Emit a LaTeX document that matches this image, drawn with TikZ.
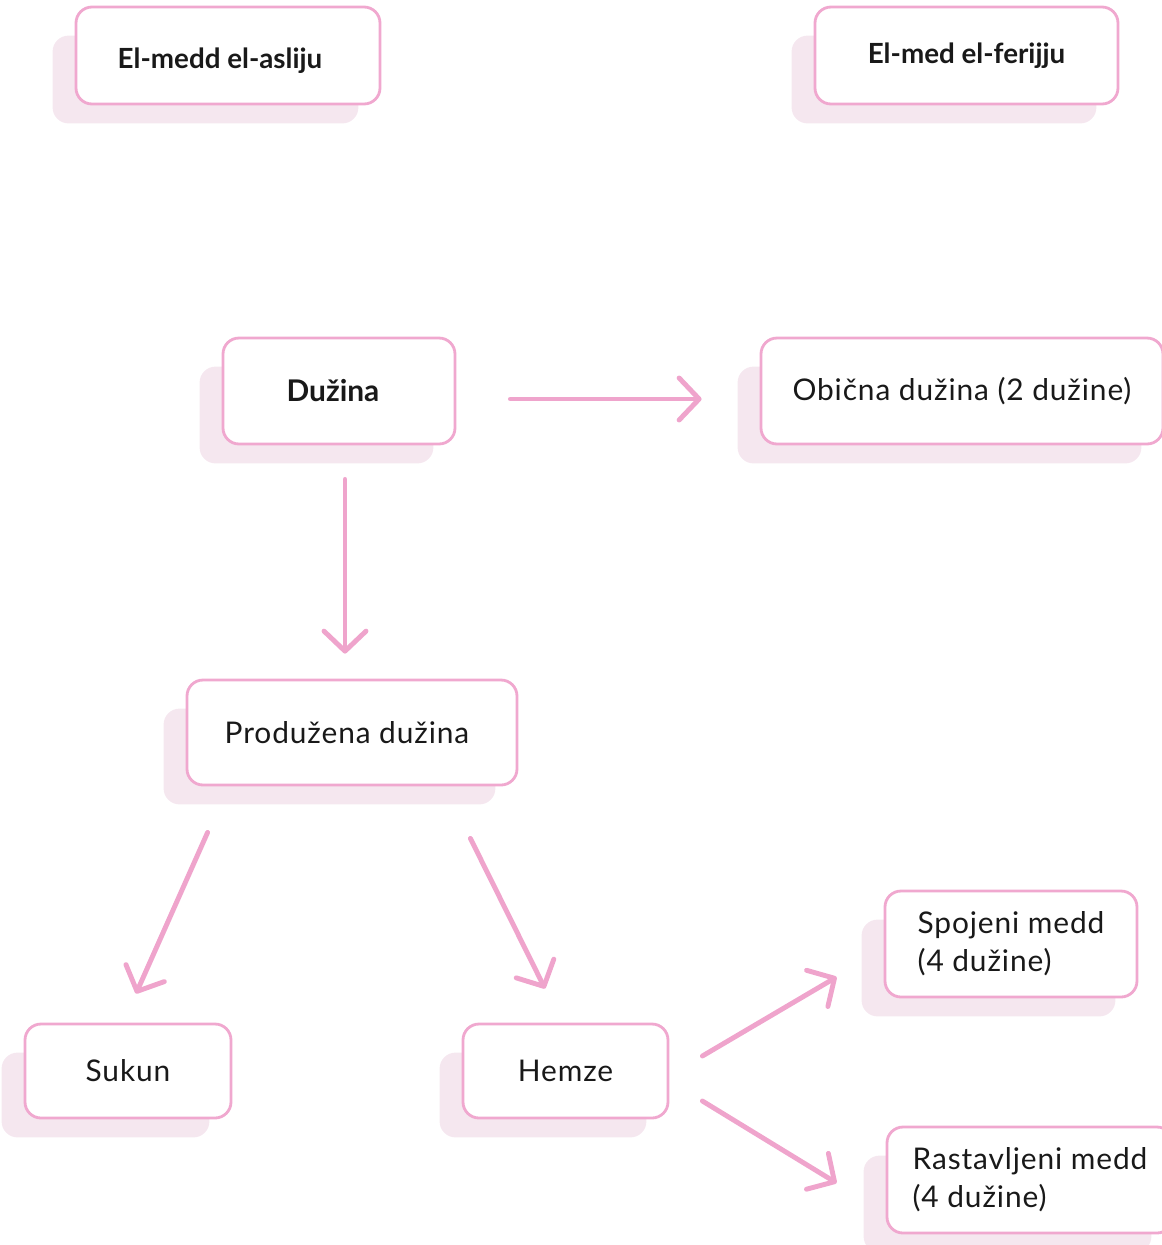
\documentclass[tikz,border=0pt]{standalone}
\usepackage{fontspec}
\setmainfont{Lato}
\newfontfamily\spacedfont{Lato}[LetterSpace=3]
\usepackage{xcolor}
\usetikzlibrary{arrows.meta, positioning, calc, backgrounds}

\definecolor{rosa}{HTML}{F0A8CF}
\definecolor{rosaline}{HTML}{EFA4CC}
\definecolor{rosashade}{HTML}{F5E7EF}

\tikzset{
  medbox/.style={draw=rosa, line width=0.8pt, rounded corners=1.6mm, fill=white, inner sep=0pt, align=left,
    font=\fontsize{8.5}{10.8}\selectfont\spacedfont, text=black!90},
  titlebox/.style={medbox, font=\fontsize{8.5}{10.8}\selectfont\bfseries},
  toptitle/.style={medbox, font=\fontsize{7.9}{10}\selectfont\bfseries},
  arr/.style={-{Straight Barb[length=2mm, width=4.2mm, round]}, rosaline, line width=1.4pt, line cap=round},
}

\begin{document}
\begin{tikzpicture}[x=0.1mm, y=-0.1mm]
    \useasboundingbox (0,0) rectangle (1161,1245);

    % Top row: the two kinds of medd
    \node[toptitle, minimum width=30.4mm, minimum height=9.7mm] (asliju) at (228,55.5) {\raisebox{-0.5mm}[\height][\depth]{El-medd el-asliju}\hspace{1.6mm}};
    \node[toptitle, minimum width=30.3mm, minimum height=9.7mm] (ferijju) at (966.5,55.5) {El-med el-ferijju};

    % Length
    \node[titlebox, minimum width=23.2mm, minimum height=10.6mm] (duzina) at (339,391) {Dužina\hspace{1.2mm}};
    \node[medbox, minimum width=40.2mm, minimum height=10.6mm] (obicna) at (962,391) {Obična dužina (2 dužine)};
    \node[medbox, minimum width=33mm, minimum height=10.5mm] (produzena) at (352,732.5) {Produžena dužina\hspace{1mm}};

    % Causes of prolongation
    \node[medbox, minimum width=20.6mm, minimum height=9.4mm] (sukun) at (128,1071) {Sukun};
    \node[medbox, minimum width=20.5mm, minimum height=9.4mm] (hemze) at (565.5,1071) {Hemze};

    % Kinds of hemze medd
    \node[medbox, minimum width=25.2mm, minimum height=10.6mm] (spojeni) at (1011,944) {Spojeni medd\\(4 dužine)};
    \node[medbox, minimum width=28.6mm, minimum height=10.6mm] (rastavljeni) at (1030,1180) {Rastavljeni medd\\(4 dužine)};

    % Shadows behind the boxes
    \begin{scope}[on background layer]
        \foreach \n in {asliju, ferijju, duzina, obicna, produzena, sukun, hemze, spojeni, rastavljeni}
            \fill[rosashade, rounded corners=1.6mm] ($(\n.north west)+(-22,30)$) rectangle ($(\n.south east)+(-23,18)$);
    \end{scope}

    % Arrows
    \draw[arr] ($(duzina.east)+(54,8)$) -- ($(obicna.west)+(-58,8)$);
    \draw[arr] ($(duzina.south)+(6,34)$) -- ($(produzena.north)+(-7,-25)$);
    \draw[arr] ($(produzena.south west)+(22,46)$) -- ($(sukun.north)+(8,-29)$);
    \draw[arr] ($(produzena.south east)+(-48,52)$) -- ($(hemze.north)+(-20.5,-34)$);
    \draw[arr] ($(hemze.east)+(33,-15)$) -- ($(spojeni.west)+(-47,33)$);
    \draw[arr] ($(hemze.east)+(33,30)$) -- ($(rastavljeni.west)+(-49,3)$);

\end{tikzpicture}
\end{document}
